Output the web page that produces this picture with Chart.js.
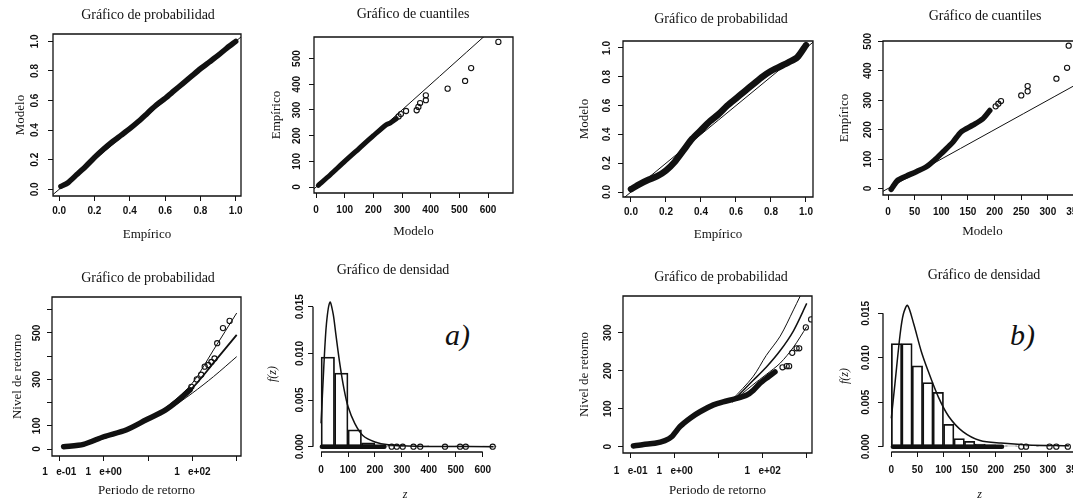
<!DOCTYPE html>
<html>
<head>
<meta charset="utf-8">
<script src="https://cdn.jsdelivr.net/npm/chart.js@4.4.1/dist/chart.umd.min.js"></script>
<style>
  html, body { margin: 0; padding: 0; background: #fff; }
  body { width: 1073px; height: 502px; position: relative; overflow: hidden; }
  canvas { position: absolute; }
  .tag { position: absolute; font: italic 30px "Liberation Serif", "Times New Roman", serif; color: #111; line-height: 1; }
</style>
</head>
<body>
<div class="tag" style="left:445px;top:320px">a)</div>
<div class="tag" style="left:1010px;top:320px">b)</div>
<script>
// ---------- a) ----------
const probEmpA = [0.01, 0.05, 0.10, 0.15, 0.20, 0.25, 0.30, 0.35, 0.40, 0.45, 0.50, 0.55, 0.60, 0.65, 0.70, 0.75, 0.80, 0.85, 0.90, 0.95, 1.00];
const probModA = [0.02, 0.045, 0.10, 0.155, 0.215, 0.27, 0.32, 0.365, 0.41, 0.46, 0.515, 0.57, 0.615, 0.665, 0.715, 0.765, 0.815, 0.86, 0.905, 0.955, 1.00];

const qqModA = [8, 50, 100, 150, 200, 245, 260, 270, 280];
const qqEmpA = [7, 48, 100, 150, 200, 243, 250, 258, 266];
const qqTailModA = [288, 296, 314, 351, 357, 363, 383, 383, 459, 520, 541, 636];
const qqTailEmpA = [275, 284, 296, 299, 312, 327, 338, 357, 383, 413, 463, 565];

const rlPerA = [0.125, 0.35, 1.0, 3.2, 8.9, 24.5, 49, 89];
const rlLevA = [10, 20, 53, 82, 125, 168, 211, 255];
const rlTailPerA = [95, 126, 158, 190, 229, 269, 316, 363, 490, 692];
const rlTailLevA = [268, 300, 320, 355, 362, 375, 390, 456, 521, 552];
const rlFitPerA = [10, 30, 100, 300, 1000];
const rlFitA = [125, 180, 263, 371, 492];
const rlUpA = [127, 190, 284, 427, 586];
const rlLoA = [123, 172, 241, 312, 398];

const binStartA = [0, 50, 100, 150, 200, 250, 300, 350, 400, 450, 500, 550, 600];
const histDenA = [0.0096, 0.0079, 0.0018, 0.0004, 0.0001, 0.00015, 0.00005, 0.0001, 0, 0.00004, 0.0001, 0, 0.00004];
const densZA = [0, 10, 20, 33, 45, 55, 70, 85, 100, 125, 155, 200, 250, 350, 640];
const densFA = [0.0025, 0.0085, 0.0132, 0.0155, 0.0142, 0.0120, 0.0088, 0.0062, 0.0043, 0.0025, 0.0012, 0.0005, 0.0002, 0.00005, 0];
const rugDenseA = [3, 235];
const rugA = [262, 281, 303, 343, 368, 460, 516, 537, 637];

// ---------- b) ----------
const probEmpB = [0.00, 0.05, 0.10, 0.15, 0.20, 0.25, 0.30, 0.35, 0.40, 0.45, 0.50, 0.55, 0.60, 0.65, 0.70, 0.75, 0.80, 0.85, 0.90, 0.95, 1.00];
const probModB = [0.02, 0.055, 0.085, 0.11, 0.15, 0.21, 0.29, 0.37, 0.43, 0.49, 0.54, 0.60, 0.65, 0.70, 0.75, 0.80, 0.84, 0.87, 0.90, 0.935, 1.02];

const qqModB = [6, 9, 19, 34, 53, 72, 87, 103, 122, 137, 159, 178, 191];
const qqEmpB = [-3, 6, 29, 42, 57, 74, 96, 124, 158, 192, 215, 237, 265];
const qqTailModB = [202, 207, 212, 250, 262, 262, 316, 336, 339];
const qqTailEmpB = [279, 288, 297, 316, 330, 348, 373, 410, 485];

const rlPerB = [0.115, 0.195, 0.355, 0.60, 0.85, 1.32, 2.24, 3.76, 7.6, 12.6, 25.7, 43.6, 61.7, 87, 135, 190];
const rlLevB = [2, 6, 9, 16, 26, 53, 75, 92, 110, 118, 127, 136, 149, 167, 184, 197];
const rlTailPerB = [282, 351, 398, 468, 589, 676, 955, 1259];
const rlTailLevB = [209, 212, 212, 247, 259, 259, 314, 335];
const rlFitPerB = [20, 60, 120, 250, 500, 1000];
const rlFitB = [118, 174, 209, 253, 305, 377];
const rlUpB = [123, 184, 240, 291, 360, 432];
const rlLoB = [117, 163, 190, 220, 262, 316];

const binStartB = [0, 20, 40, 60, 80, 100, 120, 140, 160, 180, 200, 220, 240, 260, 280, 300, 320];
const histDenB = [0.0116, 0.0116, 0.0091, 0.0072, 0.0061, 0.0025, 0.0009, 0.0006, 0.0003, 0.0002, 0.0001, 0.0001, 0.00005, 0.00005, 0.0001, 0.00005, 0.00005];
const densZB = [0, 7, 17, 23, 31, 43, 57, 70, 90, 110, 137, 170, 210, 260, 340];
const densFB = [0.0032, 0.0071, 0.0127, 0.0149, 0.0159, 0.0138, 0.0108, 0.0086, 0.0056, 0.0034, 0.0017, 0.0007, 0.0004, 0.0002, 0.0001];
const rugDenseB = [3, 212];
const rugB = [249, 258, 303, 316, 338];

// reference lines
const diagProb = [-0.1, 1.1];
const diagQqA = [-30, 700];
const diagQqB = [-30, 420];

// ticks
const probTicks = [0, 0.2, 0.4, 0.6, 0.8, 1.0];
const probLabels = ['0.0', '0.2', '0.4', '0.6', '0.8', '1.0'];
const qqTicksA = [0, 100, 200, 300, 400, 500, 600];
const qqLabelsA = ['0', '100', '200', '300', '400', '500', '600'];
const qqYTicks = [0, 100, 200, 300, 400, 500];
const qqYLabels = ['0', '100', '200', '300', '400', '500'];
const qqTicksB = [0, 50, 100, 150, 200, 250, 300, 350];
const qqLabelsB = ['0', '50', '100', '150', '200', '250', '300', '350'];
const rpTicks = [0.1, 1, 10, 100, 1000];
const rpLabels = ['1   e-01', '1   e+00', '', '1   e+02', ''];
const rlYTicksA = [0, 100, 200, 300, 400, 500, 600];
const rlYLabelsA = ['0', '100', '', '300', '', '500', ''];
const rlYTicksB = [0, 100, 200, 300];
const rlYLabelsB = ['0', '100', '200', '300'];
const denYTicks = [0, 0.005, 0.010, 0.015];
const denYLabels = ['0.000', '0.005', '0.010', '0.015'];

const serif = '"Liberation Serif", "Times New Roman", serif';
const sans = '"Liberation Sans", Arial, sans-serif';
Chart.defaults.font.family = sans;
Chart.defaults.color = '#111';

const INK = '#111';
const TICK = 5;
const WY = 55;

const meter = document.createElement('canvas').getContext('2d');
meter.font = 'bold 10px ' + sans;
const widest = labels => Math.max(...labels.map(s => meter.measureText(s).width));

const xy = (xs, ys) => xs.map((x, i) => ({ x: x, y: ys[i] }));
const band = (xs, ys, w) => ({ type: 'line', data: xy(xs, ys), borderColor: INK, borderWidth: w || 5.5, pointRadius: 0, tension: 0.25, borderCapStyle: 'round', borderJoinStyle: 'round' });
const thin = (xs, ys, w) => ({ type: 'line', data: xy(xs, ys), borderColor: INK, borderWidth: w || 1, pointRadius: 0, tension: 0.3 });
const rings = (xs, ys) => ({ type: 'scatter', data: xy(xs, ys), pointRadius: 2.6, pointBorderWidth: 1.1, pointBorderColor: INK, pointBackgroundColor: 'rgba(0,0,0,0)' });
const bars = (starts, w, ds) => ({ type: 'bar', data: xy(starts.map(s => s + w / 2), ds), backgroundColor: 'rgba(0,0,0,0)', borderColor: INK, borderWidth: 1.1, borderSkipped: false, barPercentage: 1, categoryPercentage: 1 });
const zeros = xs => xs.map(() => 0);

// box round the plot, or R style axis lines from first to last tick
const rFrame = {
  id: 'rFrame',
  afterDatasetsDraw(chart, args, opts) {
    const { ctx, chartArea: a, scales } = chart;
    ctx.save();
    ctx.strokeStyle = INK;
    ctx.lineWidth = 1.3;
    ctx.beginPath();
    if (opts.box) {
      ctx.rect(a.left, a.top, a.width, a.height);
    } else {
      const xt = scales.x.ticks, yt = scales.y.ticks;
      ctx.moveTo(scales.x.getPixelForValue(xt[0].value), a.bottom);
      ctx.lineTo(scales.x.getPixelForValue(xt[xt.length - 1].value), a.bottom);
      ctx.moveTo(a.left, scales.y.getPixelForValue(yt[0].value));
      ctx.lineTo(a.left, scales.y.getPixelForValue(yt[yt.length - 1].value));
    }
    ctx.stroke();
    ctx.restore();
  }
};

function panel(p) {
  const cl = p.L - WY;
  const ct = Math.round(p.titleY - 8.4);
  const W = Math.round(2 * (p.titleX - cl));
  const WR = W - WY - (p.R - p.L);
  const H = Math.ceil(p.xTitleY + 9 - ct);
  const HX = ct + H - p.B;

  const c = document.createElement('canvas');
  c.width = W;
  c.height = H;
  c.style.left = cl + 'px';
  c.style.top = ct + 'px';
  document.body.appendChild(c);

  const tickFont = { size: 10, weight: 'bold' };
  const grid = { display: true, drawOnChartArea: false, drawTicks: true, tickLength: TICK, color: INK, lineWidth: 1, offset: false };

  new Chart(c, {
    type: 'scatter',
    data: { datasets: p.datasets },
    plugins: [rFrame],
    options: {
      responsive: false,
      animation: false,
      events: [],
      layout: { padding: 0, autoPadding: false },
      plugins: {
        legend: { display: false },
        tooltip: { enabled: false },
        title: {
          display: true, text: p.title, color: INK,
          font: { family: serif, size: 14, weight: 'normal' },
          padding: { top: 0, bottom: p.T - ct - 16.8 }
        },
        rFrame: { box: p.box !== false }
      },
      scales: {
        x: {
          type: p.xType || 'linear', min: p.xMin, max: p.xMax, offset: false,
          afterBuildTicks: s => { s.ticks = p.xTicks.map(v => ({ value: v })); },
          afterFit: s => { s.height = HX; },
          ticks: {
            autoSkip: false, minRotation: 0, maxRotation: 0, color: INK, font: tickFont,
            padding: p.xTickY - p.B - TICK - 6,
            callback: (v, i) => p.xLabels[i]
          },
          grid: grid,
          border: { display: false },
          title: {
            display: true, text: p.xTitle, color: INK,
            font: { family: serif, size: p.xItalic ? 12 : 13, style: p.xItalic ? 'italic' : 'normal' },
            padding: { top: 0, bottom: ct + H - 7.8 - p.xTitleY }
          }
        },
        y: {
          type: 'linear', min: p.yMin, max: p.yMax, offset: false,
          afterBuildTicks: s => { s.ticks = p.yTicks.map(v => ({ value: v })); },
          afterFit: s => { s.width = WY; },
          ticks: {
            autoSkip: false, minRotation: 90, maxRotation: 90, crossAlign: 'center', color: INK, font: tickFont,
            padding: p.L - TICK - widest(p.yLabels) / 2 - p.yTickX,
            callback: (v, i) => p.yLabels[i]
          },
          grid: grid,
          border: { display: false },
          title: {
            display: true, text: p.yTitle, color: INK,
            font: { family: serif, size: p.yItalic ? 12 : 13, style: p.yItalic ? 'italic' : 'normal' },
            padding: { top: p.yTitleX - cl - 7.8, bottom: 0 }
          }
        },
        y2: {
          type: 'linear', position: 'right', display: true,
          afterFit: s => { s.width = WR; },
          ticks: { display: false },
          grid: { display: false },
          border: { display: false }
        }
      }
    }
  });
}

// a) probabilidad
panel({
  L: 53, T: 34, R: 241, B: 196, titleX: 148, titleY: 15, yTitleX: 21, xTitleY: 235, yTickX: 35, xTickY: 211,
  title: 'Gráfico de probabilidad', xTitle: 'Empírico', yTitle: 'Modelo',
  xMin: -0.035, xMax: 1.03, yMin: -0.045, yMax: 1.05,
  xTicks: probTicks, xLabels: probLabels, yTicks: probTicks, yLabels: probLabels,
  datasets: [band(probEmpA, probModA, 5.5), thin(diagProb, diagProb)]
});

// a) cuantiles
panel({
  L: 314, T: 37, R: 513, B: 193, titleX: 413, titleY: 14, yTitleX: 277, xTitleY: 232, yTickX: 297, xTickY: 210,
  title: 'Gráfico de cuantiles', xTitle: 'Modelo', yTitle: 'Empírico',
  xMin: -7, xMax: 687, yMin: -23, yMax: 584,
  xTicks: qqTicksA, xLabels: qqLabelsA, yTicks: qqYTicks, yLabels: qqYLabels,
  datasets: [band(qqModA, qqEmpA, 5), rings(qqTailModA, qqTailEmpA), thin(diagQqA, diagQqA)]
});

// a) nivel de retorno
panel({
  L: 52, T: 297, R: 241, B: 456, titleX: 148, titleY: 278, yTitleX: 18, xTitleY: 491, yTickX: 37, xTickY: 472,
  title: 'Gráfico de probabilidad', xTitle: 'Periodo de retorno', yTitle: 'Nivel de retorno',
  xType: 'logarithmic', xMin: 0.0684, xMax: 1250, yMin: -30, yMax: 655,
  xTicks: rpTicks, xLabels: rpLabels, yTicks: rlYTicksA, yLabels: rlYLabelsA,
  datasets: [
    band(rlPerA, rlLevA, 5.5), rings(rlTailPerA, rlTailLevA),
    thin(rlFitPerA, rlFitA, 1.8), thin(rlFitPerA, rlUpA), thin(rlFitPerA, rlLoA)
  ]
});

// a) densidad
panel({
  L: 313, T: 296, R: 497, B: 452, titleX: 393, titleY: 270, yTitleX: 273, xTitleY: 494, yTickX: 300, xTickY: 470,
  title: 'Gráfico de densidad', xTitle: 'z', yTitle: 'f(z)', xItalic: true, yItalic: true, box: false,
  xMin: -30, xMax: 653, yMin: -0.00057, yMax: 0.01615,
  xTicks: qqTicksA, xLabels: qqLabelsA, yTicks: denYTicks, yLabels: denYLabels,
  datasets: [
    thin(densZA, densFA, 1.5), band(rugDenseA, zeros(rugDenseA), 4.5), rings(rugA, zeros(rugA)),
    bars(binStartA, 50, histDenA)
  ]
});

// b) probabilidad
panel({
  L: 623, T: 41, R: 813, B: 197, titleX: 721, titleY: 19, yTitleX: 585, xTitleY: 235, yTickX: 607, xTickY: 212,
  title: 'Gráfico de probabilidad', xTitle: 'Empírico', yTitle: 'Modelo',
  xMin: -0.0457, xMax: 1.04, yMin: -0.0347, yMax: 1.0486,
  xTicks: probTicks, xLabels: probLabels, yTicks: probTicks, yLabels: probLabels,
  datasets: [band(probEmpB, probModB, 6.5), thin(diagProb, diagProb)]
});

// b) cuantiles
panel({
  L: 883, T: 41, R: 1082, B: 195, titleX: 985, titleY: 16, yTitleX: 845, xTitleY: 232, yTickX: 868, xTickY: 212,
  title: 'Gráfico de cuantiles', xTitle: 'Modelo', yTitle: 'Empírico',
  xMin: -9.4, xMax: 364, yMin: -22, yMax: 501,
  xTicks: qqTicksB, xLabels: qqLabelsB, yTicks: qqYTicks, yLabels: qqYLabels,
  datasets: [band(qqModB, qqEmpB, 5.5), rings(qqTailModB, qqTailEmpB), thin(diagQqB, diagQqB)]
});

// b) nivel de retorno
panel({
  L: 623, T: 296, R: 812, B: 453, titleX: 721, titleY: 277, yTitleX: 585, xTitleY: 491, yTickX: 608, xTickY: 471,
  title: 'Gráfico de probabilidad', xTitle: 'Periodo de retorno', yTitle: 'Nivel de retorno',
  xType: 'logarithmic', xMin: 0.0668, xMax: 1318, yMin: -16.6, yMax: 396.6,
  xTicks: rpTicks, xLabels: rpLabels, yTicks: rlYTicksB, yLabels: rlYLabelsB,
  datasets: [
    band(rlPerB, rlLevB, 5.5), rings(rlTailPerB, rlTailLevB),
    thin(rlFitPerB, rlFitB, 1.5), thin(rlFitPerB, rlUpB), thin(rlFitPerB, rlLoB)
  ]
});

// b) densidad
panel({
  L: 883, T: 300, R: 1076, B: 452, titleX: 984, titleY: 275, yTitleX: 845, xTitleY: 494, yTickX: 866, xTickY: 470,
  title: 'Gráfico de densidad', xTitle: 'z', yTitle: 'f(z)', xItalic: true, yItalic: true, box: false,
  xMin: -15.9, xMax: 353.7, yMin: -0.0006, yMax: 0.0165,
  xTicks: qqTicksB, xLabels: qqLabelsB, yTicks: denYTicks, yLabels: denYLabels,
  datasets: [
    thin(densZB, densFB, 1.5), band(rugDenseB, zeros(rugDenseB), 4.5), rings(rugB, zeros(rugB)),
    bars(binStartB, 20, histDenB)
  ]
});
</script>
</body>
</html>
